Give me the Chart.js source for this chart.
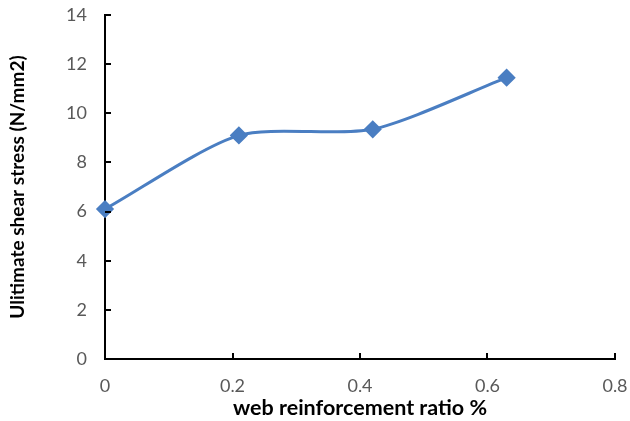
<!DOCTYPE html>
<html>
<head>
<meta charset="utf-8">
<script src="https://cdn.jsdelivr.net/npm/chart.js@4/dist/chart.umd.min.js"></script>
<style>
  html, body { margin: 0; padding: 0; background: #fff; }
  #wrap { width: 630px; height: 421px; }
</style>
</head>
<body>
<div id="wrap"><canvas id="c" width="630" height="421"></canvas></div>
<script>
// Web reinforcement ratio (%) against ultimate shear stress (N/mm2)
const webRatio = [0, 0.21, 0.42, 0.63];
const shearStress = [6.1, 9.1, 9.35, 11.45];
const xTicks = [0, 0.2, 0.4, 0.6, 0.8];
const yTicks = [0, 2, 4, 6, 8, 10, 12, 14];

const lineColor = '#4A7EC2';
const fontFamily = 'Lato, "Open Sans", sans-serif';

// Short tick marks pointing into the plot area, like a classic spreadsheet chart
const inwardTicks = {
  id: 'inwardTicks',
  afterDatasetsDraw(chart) {
    const ctx = chart.ctx;
    const { x, y } = chart.scales;
    ctx.save();
    ctx.strokeStyle = '#000';
    ctx.lineWidth = 2;
    ctx.beginPath();
    x.ticks.forEach((t, i) => {
      const px = Math.round(x.getPixelForTick(i));
      ctx.moveTo(px, y.bottom);
      ctx.lineTo(px, y.bottom - 6);
    });
    y.ticks.forEach((t, i) => {
      const py = Math.round(y.getPixelForTick(i));
      ctx.moveTo(x.left, py);
      ctx.lineTo(x.left + 6, py);
    });
    ctx.stroke();
    ctx.restore();
  }
};

new Chart(document.getElementById('c'), {
  type: 'scatter',
  data: {
    datasets: [{
      data: webRatio.map((v, i) => ({ x: v, y: shearStress[i] })),
      showLine: true,
      tension: 0.25,
      borderColor: lineColor,
      backgroundColor: lineColor,
      borderWidth: 3,
      pointStyle: 'rectRot',
      pointRadius: 7,
      pointHoverRadius: 7,
      clip: false
    }]
  },
  options: {
    responsive: false,
    animation: false,
    layout: { padding: { top: 15, right: 15, left: 6, bottom: 0 } },
    plugins: { legend: { display: false }, tooltip: { enabled: false } },
    scales: {
      x: {
        type: 'linear',
        min: 0, max: 0.8,
        afterBuildTicks: (s) => { s.ticks = xTicks.map(v => ({ value: v })); },
        afterFit: (s) => { s.height = 62; s.paddingLeft = 0; s.paddingRight = 0; },
        grid: { display: true, drawOnChartArea: false, drawTicks: false },
        border: { display: true, color: '#000', width: 2 },
        ticks: {
          padding: 16,
          color: '#595959',
          font: { family: fontFamily, size: 18 },
          callback: (v) => String(+v.toFixed(1))
        },
        title: {
          display: true,
          text: 'web reinforcement ratio %',
          color: '#000',
          font: { family: fontFamily, size: 21.5, weight: 'bold' },
          padding: { top: 0, bottom: 0 }
        }
      },
      y: {
        type: 'linear',
        min: 0, max: 14,
        afterBuildTicks: (s) => { s.ticks = yTicks.map(v => ({ value: v })); },
        afterFit: (s) => { s.width = 99; s.paddingTop = 0; s.paddingBottom = 0; },
        grid: { display: true, drawOnChartArea: false, drawTicks: false },
        border: { display: true, color: '#000', width: 2 },
        ticks: {
          padding: 18,
          color: '#595959',
          font: { family: fontFamily, size: 18 }
        },
        title: {
          display: true,
          text: 'Ulitimate shear stress (N/mm2)',
          color: '#000',
          font: { family: fontFamily, size: 19, weight: 'bold' },
          padding: { top: 0, bottom: 0 }
        }
      }
    }
  },
  plugins: [inwardTicks]
});
</script>
</body>
</html>
